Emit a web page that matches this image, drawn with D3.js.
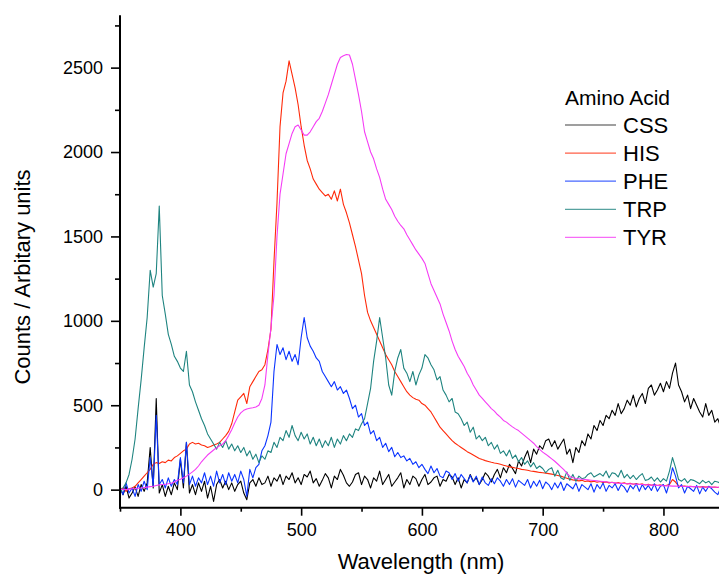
<!DOCTYPE html>
<html>
<head>
<meta charset="utf-8">
<script src="https://cdn.jsdelivr.net/npm/d3@7"></script>
<style>
  html, body { margin: 0; padding: 0; background: #fff; }
  svg { display: block; }
  text { font-family: "Liberation Sans", Arial, sans-serif; fill: #000; }
</style>
</head>
<body>
<svg id="chart" width="719" height="576"></svg>
<script>
// ---------------- DATA ----------------
const wavelength = [
350,352.5,355,357.5,360,362.5,365,367.5,370,372.5,375,377.5,380,382.5,385,387.5,390,392.5,395,397.5,
400,402.5,405,407.5,410,412.5,415,417.5,420,422.5,425,427.5,430,432.5,435,437.5,440,442.5,445,447.5,
450,452.5,455,457.5,460,462.5,465,467.5,470,472.5,475,477.5,480,482.5,485,487.5,490,492.5,495,497.5,
500,502.5,505,507.5,510,512.5,515,517.5,520,522.5,525,527.5,530,532.5,535,537.5,540,542.5,545,547.5,
550,552.5,555,557.5,560,562.5,565,567.5,570,572.5,575,577.5,580,582.5,585,587.5,590,592.5,595,597.5,
600,602.5,605,607.5,610,612.5,615,617.5,620,622.5,625,627.5,630,632.5,635,637.5,640,642.5,645,647.5,
650,652.5,655,657.5,660,662.5,665,667.5,670,672.5,675,677.5,680,682.5,685,687.5,690,692.5,695,697.5,
700,702.5,705,707.5,710,712.5,715,717.5,720,722.5,725,727.5,730,732.5,735,737.5,740,742.5,745,747.5,
750,752.5,755,757.5,760,762.5,765,767.5,770,772.5,775,777.5,780,782.5,785,787.5,790,792.5,795,797.5,
800,802.5,805,807.5,810,812.5,815,817.5,820,822.5,825,827.5,830,832.5,835,837.5,840,842.5,845,847.5
];

const CSS = [
10,-30,20,-50, -20,15,-40,30, -10,40,250,10, 540,-20,30,-40, 20,-30,40,0,
180,10,280,-20, 30,-30,40,-10, 50,-50,20,-70, 30,60,10,50, 0,40,-10,30,
50,-20,-60,40, 60,20,70,30, 40,80,20,70, 50,90,30,80, 60,100,40,70,
30,90,75,110, 40,65,20,55, 95,70,10,80, 60,120,85,40, 20,45,90,100,
30,80,60,10, 70,50,110,30, 60,90,20,45, 70,100,10,60, 30,80,65,20,
60,90,30,45, 70,80,20,60, 50,90,75,30, 70,10,60,40, 90,50,70,30,
60,100,80,45, 90,120,70,130, 100,150,125,95, 170,140,190,230, 160,240,210,260,
240,290,300,255, 290,240,270,300, 210,240,160,250, 220,290,260,330, 300,380,350,410,
380,440,420,470, 440,510,450,480, 530,500,560,490, 540,570,510,600, 620,560,590,630,
580,640,600,690, 750,620,580,520, 560,480,540,500, 460,430,510,440, 470,400,420,370
];

const HIS = [
0,10,-10,5, 10,20,40,60, 80,100,120,150, 160,155,165,160, 175,170,190,200,
215,230,240,270, 280,270,275,265, 260,250,255,265, 270,280,300,320, 345,390,460,530,
550,570,510,610, 640,670,700,710, 740,830,950,1350, 1700,2150,2350,2420, 2540,2460,2380,2280,
2150,2040,1950,1900, 1840,1810,1780,1760, 1740,1750,1720,1770, 1710,1780,1690,1640, 1580,1510,1440,1360,
1280,1150,1050,1000, 960,920,880,840, 800,770,740,700, 670,640,610,580, 560,545,535,530,
510,500,480,460, 430,400,370,350, 330,310,290,275, 262,250,238,225, 215,205,195,185,
178,172,167,162, 158,155,150,145, 140,135,132,128, 125,120,118,115, 110,108,105,102,
100,98,95,92, 88,84,80,74, 68,62,58,55, 52,55,48,52, 46,50,44,48,
42,46,40,44, 38,42,36,40, 34,38,32,36, 30,34,28,32, 26,30,25,28,
24,26,30,60, 45,22,20,22, 18,20,17,19, 16,18,15,17, 14,16,13,15
];

const PHE = [
20,-30,40,-20, 10,-40,30,-10, 50,0,190,20, 440,30,60,10, 70,20,60,30,
190,40,280,30, 80,20,70,40, 100,30,80,20, 110,40,90,30, 100,50,90,40,
110,60,-40,120, 70,130,150,230, 260,320,400,700, 860,800,840,770, 820,760,800,740,
900,1020,900,850, 820,780,760,700, 670,640,610,640, 590,610,570,590, 540,480,500,430,
450,380,400,330, 350,290,310,250, 275,225,250,195, 220,190,200,170, 185,150,165,130,
150,120,95,140, 100,125,80,70, 110,100,60,95, 50,90,65,40, 85,45,80,30,
75,40,25,65, 35,70,50,20, 60,30,65,15, 55,40,25,60, 10,50,20,55,
5,45,30,0, 40,10,45,-5, 35,20,5,40, -10,30,15,0, 35,-15,30,5,
40,-10,25,10, 35,-5,30,15, -15,25,5,35, -10,30,0,25, -5,35,-10,20,
30,-20,40,130, 80,10,30,-20, 20,5,-10,25, -25,15,-10,20, 5,-15,-30,15
];

const TRP = [
-20,10,40,90, 180,300,480,650, 840,1020,1300,1200, 1280,1680,1150,1040, 920,860,790,760,
720,700,820,620, 580,520,470,420, 380,330,300,270, 240,280,250,290, 240,270,230,260,
220,250,200,230, 180,210,160,200, 180,230,220,280, 250,310,290,350, 310,380,320,290,
340,300,330,270, 310,260,300,250, 290,260,310,250, 300,270,320,290, 330,310,360,350,
390,420,510,600, 760,880,1020,900, 780,620,560,700, 780,830,720,690, 640,700,620,680,
720,800,780,740, 710,650,670,590, 560,520,540,460, 450,420,380,400, 340,370,300,320,
290,310,260,280, 240,265,215,230, 200,235,185,205, 165,190,150,170, 135,160,125,140,
125,100,120,130, 80,115,70,60, 105,55,90,50, 80,65,70,90, 100,75,85,95,
80,110,70,100, 95,75,115,70, 90,65,85,60, 80,95,55,60, 75,50,70,45,
65,50,110,190, 130,60,50,65, 40,60,55,45, 35,55,40,50, 30,50,45,35
];

const TYR = [
0,2,0,3, 5,6,8,10, 12,15,18,20, 25,28,30,32, 35,38,45,55,
62,70,80,92, 105,120,140,165, 185,205,220,235, 248,260,270,290, 320,355,395,430,
455,470,478,482, 485,490,500,540, 620,800,960,1150, 1500,1750,1870,1990, 2050,2110,2150,2160,
2130,2100,2100,2120, 2150,2180,2200,2240, 2290,2340,2400,2460, 2520,2560,2570,2578, 2575,2520,2430,2340,
2240,2120,2060,2000, 1960,1900,1850,1780, 1720,1690,1660,1620, 1590,1565,1545,1510, 1480,1450,1420,1395,
1370,1340,1280,1220, 1180,1140,1100,1040, 990,940,880,830, 790,760,730,690, 660,620,590,560,
540,520,500,480, 465,445,430,410, 400,385,372,360, 350,335,320,305, 290,275,255,238,
222,210,196,182, 168,152,135,118, 98,78,70,66, 64,62,60,58, 56,54,52,50,
48,46,44,42, 40,38,37,36, 35,34,33,32, 31,30,29,28, 27,26,25,24,
23,22,22,21, 21,20,20,19, 19,18,18,17, 17,16,16,15, 15,14,14,13
];

const seriesNames = ["CSS", "HIS", "PHE", "TRP", "TYR"];
const seriesValues = [CSS, HIS, PHE, TRP, TYR];
const seriesColors = ["#000000", "#ff2a0a", "#0a34ff", "#1f8480", "#f53cf5"];

const xMajorTicks = [400, 500, 600, 700, 800];
const xMinorTicks = [350, 450, 550, 650, 750];
const yMajorTicks = [0, 500, 1000, 1500, 2000, 2500];
const yMinorTicks = [250, 750, 1250, 1750, 2250, 2750];

const xTitle = "Wavelength (nm)";
const yTitle = "Counts / Arbitary units";
const legendTitle = "Amino Acid";

// ---------------- CHART ----------------
(function () {
const svg = d3.select("#chart");
const pLeft = 120, pRight = 719, pTop = 15.3, pBottom = 507.7;

const x = d3.scaleLinear().domain([350, 846]).range([pLeft, pRight]);
const y = d3.scaleLinear().domain([-107, 2810]).range([pBottom, pTop]);

svg.append("defs").append("clipPath").attr("id", "plotclip")
  .append("rect").attr("x", pLeft).attr("y", pTop).attr("width", pRight - pLeft).attr("height", pBottom - pTop);

const line = d3.line().x((d, i) => x(wavelength[i])).y(d => y(d));

const plot = svg.append("g").attr("clip-path", "url(#plotclip)");
seriesValues.forEach((vals, k) => {
  plot.append("path")
    .datum(vals)
    .attr("d", line)
    .attr("fill", "none")
    .attr("stroke", seriesColors[k])
    .attr("stroke-width", 1.1)
    .attr("stroke-linejoin", "round");
});

// Axes
const fontSize = 18;
const yAxisMajor = d3.axisLeft(y).tickValues(yMajorTicks).tickSize(9).tickPadding(8).tickFormat(d3.format("d"));
const yAxisMinor = d3.axisLeft(y).tickValues(yMinorTicks).tickSize(5).tickFormat("");
const xAxisMajor = d3.axisBottom(x).tickValues(xMajorTicks).tickSize(8).tickPadding(8).tickFormat(d3.format("d"));
const xAxisMinor = d3.axisBottom(x).tickValues(xMinorTicks).tickSize(4).tickFormat("");

function styleAxis(g) {
  g.select(".domain").remove();
  g.selectAll(".tick line").attr("stroke", "#000").attr("stroke-width", 1.6);
  g.selectAll(".tick text").attr("font-size", fontSize).attr("font-family", "Liberation Sans, Arial, sans-serif").attr("fill", "#000");
}

svg.append("g").attr("transform", `translate(${pLeft},0)`).call(yAxisMajor).call(styleAxis);
svg.append("g").attr("transform", `translate(${pLeft},0)`).call(yAxisMinor).call(styleAxis);
svg.append("g").attr("transform", `translate(0,${pBottom})`).call(xAxisMajor).call(styleAxis);
svg.append("g").attr("transform", `translate(0,${pBottom})`).call(xAxisMinor).call(styleAxis);

// axis lines
svg.append("line").attr("x1", pLeft).attr("x2", pLeft).attr("y1", pTop).attr("y2", pBottom + 1)
  .attr("stroke", "#000").attr("stroke-width", 2);
svg.append("line").attr("x1", pLeft - 1).attr("x2", pRight).attr("y1", pBottom).attr("y2", pBottom)
  .attr("stroke", "#000").attr("stroke-width", 2);

// Axis titles
svg.append("text").attr("x", 421).attr("y", 569).attr("text-anchor", "middle")
  .attr("font-size", 22).text(xTitle);
svg.append("text").attr("transform", "translate(30,277) rotate(-90)").attr("text-anchor", "middle")
  .attr("font-size", 22).text(yTitle);

// Legend
const lg = svg.append("g");
lg.append("text").attr("x", 565).attr("y", 105).attr("font-size", 21).text(legendTitle);
seriesNames.forEach((name, k) => {
  const ly = 125 + k * 28.1;
  lg.append("line").attr("x1", 565).attr("x2", 616).attr("y1", ly).attr("y2", ly)
    .attr("stroke", seriesColors[k]).attr("stroke-width", 1.2).attr("opacity", 0.75);
  lg.append("text").attr("x", 623).attr("y", ly + 8).attr("font-size", 22).text(name);
});
})();
</script>
</body>
</html>
